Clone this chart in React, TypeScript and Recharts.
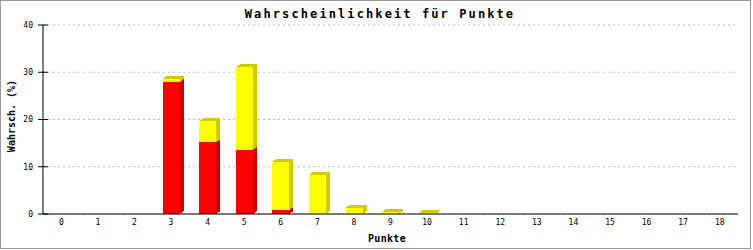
import React from 'react'
import { BarChart, Bar, XAxis, YAxis, CartesianGrid } from 'recharts'

// Punkte 0..18 und die beiden gestapelten Anteile (in %)
const punkte = ['0', '1', '2', '3', '4', '5', '6', '7', '8', '9', '10', '11', '12', '13', '14', '15', '16', '17', '18']
const anteilRot = [0, 0, 0, 27.9, 15.2, 13.6, 0.85, 0, 0, 0, 0, 0, 0, 0, 0, 0, 0, 0, 0]
const anteilGelb = [0, 0, 0, 0.65, 4.45, 17.45, 10.15, 8.25, 1.3, 0.45, 0.15, 0, 0, 0, 0, 0, 0, 0, 0]
const yTicks = [0, 10, 20, 30, 40]

const data = punkte.map((p, i) => ({ punkte: p, rot: anteilRot[i], gelb: anteilGelb[i] }))

const MONO = '"DejaVu Sans Mono", "Liberation Mono", monospace'
const DX = 4
const DY = 3

function Block3D (props: any) {
  const { x, y, width: w, height: h, fill, dark } = props
  if (!h || h <= 0) return <g />
  const side = `${x + w},${y + h} ${x + w + DX},${y + h - DY} ${x + w + DX},${y - DY} ${x + w},${y}`
  const top = `${x},${y} ${x + DX},${y - DY} ${x + w + DX},${y - DY} ${x + w},${y}`
  return (
    <g shapeRendering="crispEdges">
      <rect x={x} y={y} width={w} height={h} fill={fill} />
      <polygon points={side} fill={dark} />
      <polygon points={top} fill={dark} />
    </g>
  )
}

function XTick (props: any) {
  const { x, y, payload } = props
  return (
    <text x={x} y={y + 11} textAnchor="middle" fontFamily={MONO} fontSize={8} fill="#000">
      {payload.value}
    </text>
  )
}

function YTick (props: any) {
  const { x, y, payload } = props
  return (
    <g>
      <line x1={x - 5} x2={x + 5} y1={y} y2={y} stroke="#000" />
      <text x={x - 10} y={y + 2.8} textAnchor="end" fontFamily={MONO} fontSize={8} fill="#000">
        {payload.value}
      </text>
    </g>
  )
}

export default function App () {
  return (
    <div style={{ position: 'absolute', left: 0, top: 0, width: 753, height: 250, background: '#fff' }}>
      <div
        style={{
          position: 'absolute', left: 0, top: 0, width: 751, height: 249,
          boxSizing: 'border-box', border: '1px solid #999'
        }}
      />
      <BarChart
        width={753}
        height={250}
        data={data}
        margin={{ top: 25, right: 15, left: 0, bottom: 6 }}
        barSize={17}
      >
        <CartesianGrid vertical={false} stroke="#bbb" strokeDasharray="2 3" />
        <XAxis
          dataKey="punkte"
          interval={0}
          height={30}
          tickLine={false}
          tickSize={0}
          tickMargin={0}
          axisLine={{ stroke: '#000' }}
          tick={<XTick />}
        />
        <YAxis
          width={43}
          domain={[0, 40]}
          ticks={yTicks}
          tickLine={false}
          tickSize={0}
          tickMargin={0}
          axisLine={{ stroke: '#000' }}
          tick={<YTick />}
        />
        <YAxis
          yAxisId="rechts"
          orientation="right"
          width={0}
          domain={[0, 40]}
          tick={false}
          tickLine={false}
          axisLine={{ stroke: '#000' }}
        />
        <Bar dataKey="rot" stackId="a" fill="#ff0000" isAnimationActive={false}
          shape={(p: any) => <Block3D {...p} dark="#cc0000" />} />
        <Bar dataKey="gelb" stackId="a" fill="#ffff00" isAnimationActive={false}
          shape={(p: any) => <Block3D {...p} dark="#cccc00" />} />
      </BarChart>
      <div
        style={{
          position: 'absolute', left: 0, top: 6, width: 760, textAlign: 'center',
          fontFamily: MONO, fontWeight: 'bold', fontSize: 12, letterSpacing: 2.1, lineHeight: '16px'
        }}
      >
        Wahrscheinlichkeit für Punkte
      </div>
      <div
        style={{
          position: 'absolute', left: 337, top: 232, width: 100, textAlign: 'center',
          fontFamily: MONO, fontWeight: 'bold', fontSize: 10, letterSpacing: 0.3, lineHeight: '14px'
        }}
      >
        Punkte
      </div>
      <div
        style={{
          position: 'absolute', left: 12, top: 116, width: 0, height: 0
        }}
      >
        <div
          style={{
            position: 'absolute', left: -50, top: -7, width: 100, textAlign: 'center',
            transform: 'rotate(-90deg)', fontFamily: MONO, fontWeight: 'bold', fontSize: 10, lineHeight: '14px'
          }}
        >
          Wahrsch. (%)
        </div>
      </div>
    </div>
  )
}
